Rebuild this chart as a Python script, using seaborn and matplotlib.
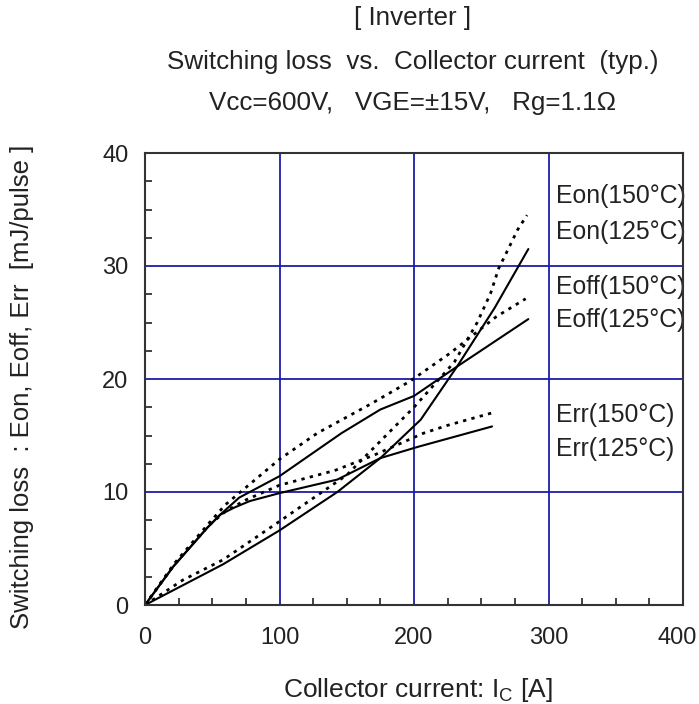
import numpy as np
import pandas as pd
import matplotlib
matplotlib.use("Agg")
import matplotlib.pyplot as plt
import matplotlib.transforms as mtransforms
import seaborn as sns

# ---- data ----
eon150_i = [0, 28, 58, 100, 150, 200, 230, 247, 257, 263, 268, 277, 284]
eon150_e = [0, 2.2, 4.0, 7.4, 11.5, 17.5, 21.5, 25.0, 27.6, 29.8, 31.0, 33.2, 34.5]
eon125_i = [0, 58, 100, 143, 175, 205, 232, 260, 285]
eon125_e = [0, 3.6, 6.6, 10.0, 13.0, 16.4, 21.1, 26.3, 31.5]
eoff150_i = [0, 22, 48, 60, 75, 100, 128, 168, 197, 227, 261, 283]
eoff150_e = [0, 3.7, 7.3, 8.9, 10.4, 12.9, 15.2, 17.8, 19.8, 22.3, 25.5, 27.1]
eoff125_i = [0, 21, 46, 56, 70, 100, 146, 175, 200, 232, 285]
eoff125_e = [0, 3.4, 6.8, 8.0, 9.5, 11.4, 15.2, 17.3, 18.5, 21.1, 25.3]
err150_i = [0, 22, 48, 60, 75, 100, 141, 171, 207, 225, 258]
err150_e = [0, 3.6, 7.1, 8.3, 9.3, 10.6, 11.9, 13.3, 15.2, 15.9, 17.0]
err125_i = [0, 21, 46, 56, 66, 78, 100, 143, 175, 203, 258]
err125_e = [0, 3.4, 6.8, 8.0, 8.6, 9.2, 9.9, 11.1, 13.0, 14.0, 15.8]

series_names = ["Eon(150°C)", "Eon(125°C)", "Eoff(150°C)", "Eoff(125°C)",
                "Err(150°C)", "Err(125°C)"]
series_data = [(eon150_i, eon150_e), (eon125_i, eon125_e),
               (eoff150_i, eoff150_e), (eoff125_i, eoff125_e),
               (err150_i, err150_e), (err125_i, err125_e)]
label_y = [36.2, 33.0, 28.1, 25.2, 16.8, 13.8]

x_ticks = [0, 100, 200, 300, 400]
y_ticks = [0, 10, 20, 30, 40]

title_lines = ["[ Inverter ]",
               "Switching loss  vs.  Collector current  (typ.)",
               "Vcc=600V,   VGE=±15V,   Rg=1.1Ω"]

# ---- style ----
sns.set_style("white")
plt.rcParams["font.family"] = ["Liberation Sans", "DejaVu Sans"]
plt.rcParams["mathtext.fontset"] = "custom"
plt.rcParams["mathtext.rm"] = "Liberation Sans"

TXT = "#222222"
W, H = 699, 704
fig = plt.figure(figsize=(W / 100, H / 100), dpi=100)
ax = fig.add_axes([145 / W, 1 - 605 / H, 538 / W, 452 / H])

rows = []
for name, (xi, ye) in zip(series_names, series_data):
    for a, b in zip(xi, ye):
        rows.append({"Ic": a, "E": b, "series": name})
df = pd.DataFrame(rows)

for name in series_names:
    sub = df[df["series"] == name]
    dotted = "150" in name
    sns.lineplot(data=sub, x="Ic", y="E", ax=ax, sort=False, estimator=None,
                 color="black",
                 linewidth=2.0 if dotted else 1.5,
                 linestyle=(0, (1.2, 1.9)) if dotted else "-",
                 legend=False, zorder=3)

ax.set_xlim(0, 400)
ax.set_ylim(0, 40)
ax.set_xticks(x_ticks)
ax.set_yticks(y_ticks)
ax.set_xticklabels([str(t) for t in x_ticks])
ax.set_yticklabels([str(t) for t in y_ticks])
ax.set_xticks(np.arange(0, 401, 25), minor=True)
ax.set_yticks(np.arange(0, 40.1, 2.5), minor=True)
ax.tick_params(axis="both", which="major", length=0, labelsize=17, colors=TXT)
ax.tick_params(axis="x", which="major", pad=16)
ax.tick_params(axis="y", which="major", pad=12)
ax.tick_params(axis="both", which="minor", direction="in", length=5, width=1.2,
               color="#222222", bottom=True, left=True, top=False, right=False)
ax.grid(True, which="major", color="#1c1ca6", linewidth=1.3)
ax.set_axisbelow(True)
for s in ax.spines.values():
    s.set_color("#333333")
    s.set_linewidth(1.5)
    s.set_zorder(4)

# last x tick label sits slightly inward in the reference
lastlab = ax.get_xticklabels()[-1]
lastlab.set_transform(lastlab.get_transform() +
                      mtransforms.ScaledTranslation(-6 / 100, 0, fig.dpi_scale_trans))

ax.set_xlabel("")
ax.set_ylabel("")

for name, yy in zip(series_names, label_y):
    ax.text(305.5, yy, name, fontsize=17.8, va="center", ha="left", color=TXT)

fig.text(418 / W, 1 - 690 / H, r"Collector current: I$_\mathregular{C}$ [A]",
         fontsize=19, ha="center", va="center", color=TXT)
fig.text(22 / W, 1 - 387 / H, "Switching loss  : Eon, Eoff, Err  [mJ/pulse ]",
         fontsize=18.5, ha="center", va="center", rotation=90, color=TXT)
for t, yp in zip(title_lines, [18, 62, 103]):
    fig.text(413 / W, 1 - yp / H, t, fontsize=18.7, ha="center", va="center",
             color=TXT)

fig.savefig("out.png", dpi=100, facecolor="white")
